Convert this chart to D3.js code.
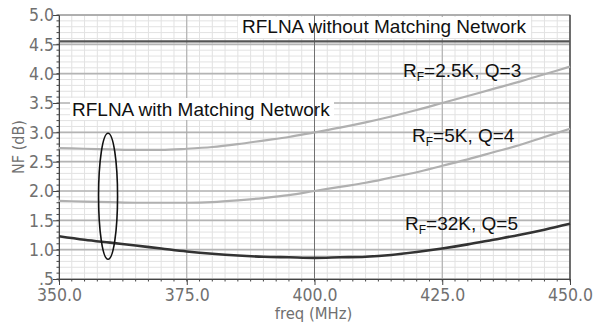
<!DOCTYPE html>
<html>
<head>
<meta charset="utf-8">
<script src="https://cdn.jsdelivr.net/npm/d3@7"></script>
<style>
  body { margin: 0; background: #fff; }
  svg { display: block; }
  .tick-label { font-family: "DejaVu Sans Condensed", "DejaVu Sans", Verdana, sans-serif; font-stretch: condensed; font-size: 17.5px; fill: #707070; }
  .note { font-family: "Liberation Sans", Arial, sans-serif; font-size: 19px; fill: #111; }
</style>
</head>
<body>
<div id="chart"></div>
<script>
// frequency points (MHz)
var freq = [350, 355, 360, 365, 370, 375, 380, 385, 390, 395, 400, 405, 410, 415, 420, 425, 430, 435, 440, 445, 450];

// NF (dB) for each configuration
var nfNoMatch = [4.55, 4.55, 4.55, 4.55, 4.55, 4.55, 4.55, 4.55, 4.55, 4.55, 4.55, 4.55, 4.55, 4.55, 4.55, 4.55, 4.55, 4.55, 4.55, 4.55, 4.55];
var nfRf25 = [2.73, 2.72, 2.71, 2.70, 2.70, 2.72, 2.75, 2.80, 2.86, 2.92, 3.00, 3.08, 3.17, 3.27, 3.38, 3.50, 3.62, 3.74, 3.86, 3.99, 4.12];
var nfRf5 = [1.83, 1.82, 1.81, 1.80, 1.80, 1.80, 1.81, 1.84, 1.88, 1.93, 2.00, 2.07, 2.14, 2.23, 2.32, 2.43, 2.54, 2.66, 2.78, 2.92, 3.06];
var nfRf32 = [1.23, 1.17, 1.12, 1.07, 1.02, 0.97, 0.93, 0.90, 0.88, 0.87, 0.86, 0.87, 0.88, 0.91, 0.96, 1.02, 1.09, 1.17, 1.25, 1.34, 1.44];

var xTicks = [350, 375, 400, 425, 450];
var yTicks = [0.5, 1.0, 1.5, 2.0, 2.5, 3.0, 3.5, 4.0, 4.5, 5.0];

var W = 603, H = 325;
var margin = {top: 15, right: 33, bottom: 46, left: 59};
var width = W - margin.left - margin.right,
    height = H - margin.top - margin.bottom;

var svg = d3.select("#chart").append("svg")
  .attr("width", W).attr("height", H);
var g = svg.append("g")
  .attr("transform", "translate(" + margin.left + "," + margin.top + ")");

var x = d3.scaleLinear().domain([350, 450]).range([0, width]);
var y = d3.scaleLinear().domain([0.5, 5.0]).range([height, 0]);

var minorX = d3.range(350, 450.01, 2.5);
var minorY = d3.range(5, 51).map(function(d) { return d / 10; });

// minor grid
g.selectAll(".mgx").data(minorX).enter().append("line")
  .attr("x1", function(d) { return x(d); }).attr("x2", function(d) { return x(d); })
  .attr("y1", 0).attr("y2", height)
  .attr("stroke", "#e2e2e2").attr("stroke-width", 1);
g.selectAll(".mgy").data(minorY).enter().append("line")
  .attr("x1", 0).attr("x2", width)
  .attr("y1", function(d) { return y(d); }).attr("y2", function(d) { return y(d); })
  .attr("stroke", "#e2e2e2").attr("stroke-width", 1);

// major grid
g.selectAll(".gy").data(yTicks).enter().append("line")
  .attr("x1", 0).attr("x2", width)
  .attr("y1", function(d) { return y(d); }).attr("y2", function(d) { return y(d); })
  .attr("stroke", "#b4b4b4").attr("stroke-width", 1.6);
g.selectAll(".gx").data([375, 425]).enter().append("line")
  .attr("x1", function(d) { return x(d); }).attr("x2", function(d) { return x(d); })
  .attr("y1", 0).attr("y2", height)
  .attr("stroke", "#a8a8a8").attr("stroke-width", 1);

// white boxes behind big notes
g.append("rect").attr("x", x(350) + 179).attr("y", 2).attr("width", 293).attr("height", 21).attr("fill", "#fff");
g.append("rect").attr("x", x(350) + 11).attr("y", 83).attr("width", 264).attr("height", 22).attr("fill", "#fff");

// 400 MHz centre line, darker
g.append("line")
  .attr("x1", x(400)).attr("x2", x(400)).attr("y1", 0).attr("y2", height)
  .attr("stroke", "#707070").attr("stroke-width", 1);

// frame
g.append("rect").attr("x", 0).attr("y", 0).attr("width", width).attr("height", height)
  .attr("fill", "none").attr("stroke", "#9a9a9a").attr("stroke-width", 1);
g.append("line").attr("x1", width).attr("x2", width).attr("y1", 0).attr("y2", height)
  .attr("stroke", "#333").attr("stroke-width", 1.2);

// axes
var yAxis = d3.axisLeft(y).tickValues(yTicks).tickSize(6)
  .tickFormat(function(d) { return d === 0.5 ? ".5" : d3.format(".1f")(d); });
var ya = g.append("g").call(yAxis);
ya.select(".domain").attr("stroke", "#444");
ya.selectAll(".tick line").attr("stroke", "#444");
ya.selectAll(".tick text").attr("class", "tick-label").attr("x", -5).attr("dy", "0.34em");

g.append("g").selectAll("line").data(minorY).enter().append("line")
  .attr("x1", -2.5).attr("x2", 0)
  .attr("y1", function(d) { return y(d); }).attr("y2", function(d) { return y(d); })
  .attr("stroke", "#444");

var xAxis = d3.axisBottom(x).tickValues(xTicks).tickSize(6).tickFormat(d3.format(".1f"));
var xa = g.append("g").attr("transform", "translate(0," + height + ")").call(xAxis);
xa.select(".domain").attr("stroke", "#444");
xa.selectAll(".tick line").attr("stroke", "#444");
xa.selectAll(".tick text").attr("class", "tick-label").attr("y", 10);

g.append("g").attr("transform", "translate(0," + height + ")")
  .selectAll("line").data(minorX).enter().append("line")
  .attr("x1", function(d) { return x(d); }).attr("x2", function(d) { return x(d); })
  .attr("y1", 0).attr("y2", 2.5)
  .attr("stroke", "#444");

// axis titles
svg.append("text").attr("class", "tick-label")
  .attr("x", margin.left + width / 2 - 1).attr("y", H - 6)
  .attr("text-anchor", "middle").style("font-size", "16.5px")
  .text("freq (MHz)");
svg.append("text").attr("class", "tick-label")
  .attr("transform", "translate(24," + (margin.top + height / 2) + ") rotate(-90)")
  .attr("text-anchor", "middle").style("font-size", "16px")
  .text("NF (dB)");

// curves
var line = d3.line()
  .x(function(d) { return x(d[0]); })
  .y(function(d) { return y(d[1]); })
  .curve(d3.curveMonotoneX);

function zip(vals) { return freq.map(function(f, i) { return [f, vals[i]]; }); }

var series = [
  {vals: nfNoMatch, color: "#555", w: 2.2},
  {vals: nfRf25, color: "#b0b0b0", w: 2.2},
  {vals: nfRf5, color: "#b0b0b0", w: 2.2},
  {vals: nfRf32, color: "#333", w: 2.6}
];
g.selectAll(".curve").data(series).enter().append("path")
  .attr("d", function(d) { return line(zip(d.vals)); })
  .attr("fill", "none")
  .attr("stroke", function(d) { return d.color; })
  .attr("stroke-width", function(d) { return d.w; });

// annotation ellipse
g.append("ellipse")
  .attr("cx", x(359.6)).attr("cy", y(1.91))
  .attr("rx", 9.5).attr("ry", 63)
  .attr("fill", "none").attr("stroke", "#111").attr("stroke-width", 1.6);

// notes
g.append("text").attr("class", "note")
  .attr("x", x(350) + 183).attr("y", 18)
  .text("RFLNA without Matching Network");
g.append("text").attr("class", "note")
  .attr("x", x(350) + 13).attr("y", 101)
  .text("RFLNA with Matching Network");

var rfLabels = [
  {k: "2.5K, Q=3", x: 344, y: 62},
  {k: "5K, Q=4", x: 353, y: 127},
  {k: "32K, Q=5", x: 346, y: 215}
];
rfLabels.forEach(function(l) {
  var t = g.append("text").attr("class", "note").attr("x", l.x).attr("y", l.y);
  t.append("tspan").text("R");
  t.append("tspan").attr("dy", 4).style("font-size", "12px").text("F");
  t.append("tspan").attr("dy", -4).text("=" + l.k);
});
</script>
</body>
</html>
